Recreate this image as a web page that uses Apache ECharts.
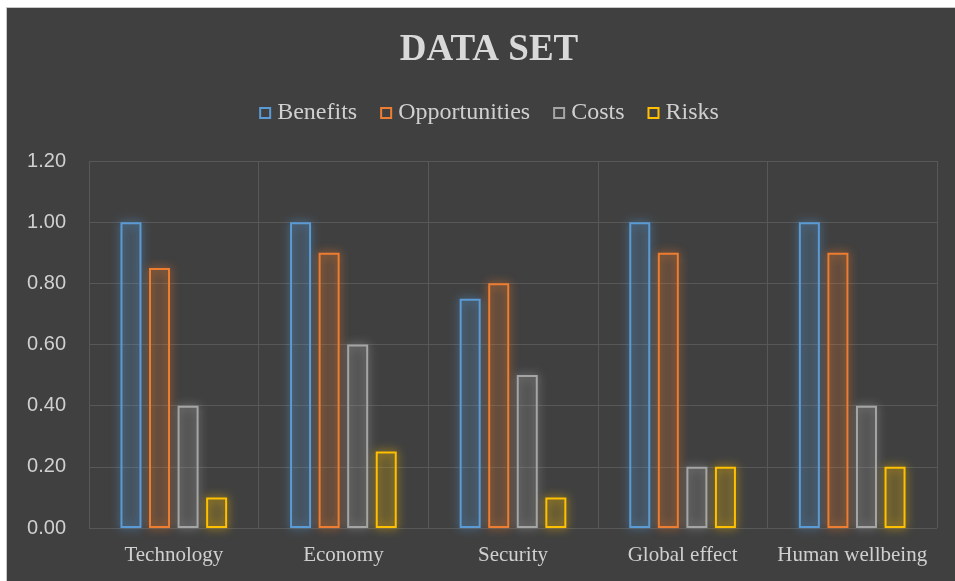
<!DOCTYPE html>
<html>
<head>
<meta charset="utf-8">
<script src="https://cdn.jsdelivr.net/npm/echarts@6/dist/echarts.min.js"></script>
<style>
  html, body { margin: 0; padding: 0; background: #ffffff; overflow: hidden; }
  #frame { position: absolute; left: 6px; top: 7px; width: 949px; height: 574px; overflow: hidden;
           border-left: 1px solid #c8c8c8; border-top: 1px solid #c8c8c8; background: #404040; }
  #chart { width: 964px; height: 573px; }
</style>
</head>
<body>
<div id="frame"><div id="chart"></div></div>
<script>
// Categories and scores for each dimension
const categories = ['Technology', 'Economy', 'Security', 'Global effect', 'Human wellbeing'];
const benefits      = [1.00, 1.00, 0.75, 1.00, 1.00];
const opportunities = [0.85, 0.90, 0.80, 0.90, 0.90];
const costs         = [0.40, 0.60, 0.50, 0.20, 0.40];
const risks         = [0.10, 0.25, 0.10, 0.20, 0.20];
const yTicks = [0, 0.2, 0.4, 0.6, 0.8, 1.0, 1.2];

const seriesDefs = [
  { name: 'Benefits',      data: benefits,      rgb: [91, 155, 213] },
  { name: 'Opportunities', data: opportunities, rgb: [237, 125, 49] },
  { name: 'Costs',         data: costs,         rgb: [165, 165, 165] },
  { name: 'Risks',         data: risks,         rgb: [255, 192, 0] }
];
const rgba = (c, a) => `rgba(${c[0]},${c[1]},${c[2]},${a})`;

const chart = echarts.init(document.getElementById('chart'));
chart.setOption({
  backgroundColor: 'transparent',
  animation: false,
  title: {
    text: 'DATA SET',
    left: 'center',
    top: 19,
    textStyle: { fontFamily: 'Liberation Serif', fontWeight: 'bold', fontSize: 37, color: '#d9d9d9' }
  },
  legend: {
    top: 88,
    left: 'center',
    itemWidth: 10,
    itemHeight: 10,
    itemGap: 23,
    icon: 'rect',
    textStyle: { fontFamily: 'Liberation Serif', fontSize: 24, color: '#d0d0d0', padding: [0, 0, 0, 2] },
    data: seriesDefs.map(s => ({
      name: s.name,
      itemStyle: { color: 'transparent', borderColor: rgba(s.rgb, 1), borderWidth: 2, shadowBlur: 0 }
    }))
  },
  grid: { left: 82, right: 34, top: 153, bottom: 53, containLabel: false },
  xAxis: {
    type: 'category',
    data: categories,
    axisLine: { show: false },
    axisTick: { show: false },
    splitLine: { show: true, interval: 0, lineStyle: { color: '#585858', width: 1 } },
    axisLabel: { interval: 0, fontFamily: 'Liberation Serif', fontSize: 21, color: '#d0d0d0', margin: 17 }
  },
  yAxis: {
    type: 'value',
    min: yTicks[0],
    max: yTicks[yTicks.length - 1],
    interval: 0.2,
    axisLine: { show: false },
    axisTick: { show: false },
    splitLine: { lineStyle: { color: '#585858', width: 1 } },
    axisLabel: {
      fontFamily: 'Liberation Sans', fontSize: 20, color: '#d0d0d0', margin: 23,
      formatter: v => v.toFixed(2)
    }
  },
  series: seriesDefs.map(s => ({
    name: s.name,
    type: 'bar',
    data: s.data,
    barWidth: 21,
    barGap: '36%',
    itemStyle: {
      color: rgba(s.rgb, 0.1),
      borderColor: rgba(s.rgb, 1),
      borderWidth: 2,
      shadowBlur: 10,
      shadowColor: rgba(s.rgb, 1)
    },
    emphasis: { disabled: true }
  }))
});
</script>
</body>
</html>
